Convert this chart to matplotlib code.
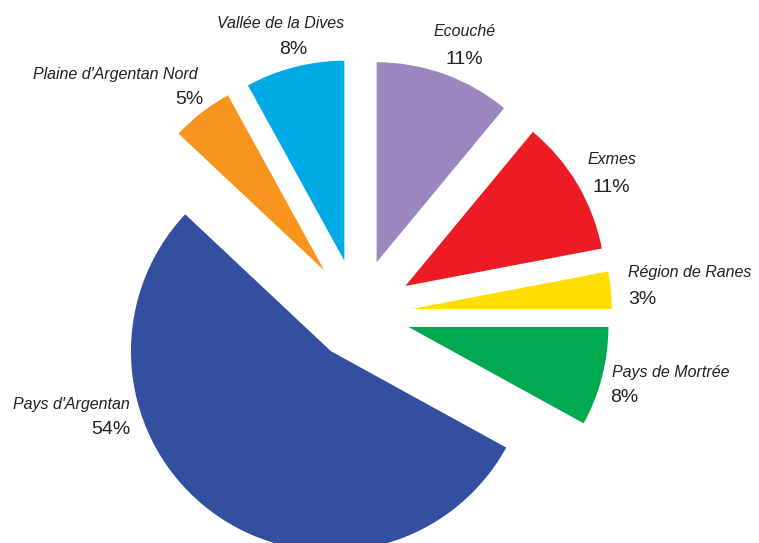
import matplotlib.pyplot as plt

# Share of each sector, clockwise from 12 o'clock
sectors = [
    "Ecouché",
    "Exmes",
    "Région de Ranes",
    "Pays de Mortrée",
    "Pays d'Argentan",
    "Plaine d'Argentan Nord",
    "Vallée de la Dives",
]
shares = [11, 11, 3, 8, 54, 5, 8]
colors = ["#9B87BE", "#ED1C24", "#FFDD00", "#00A94F", "#3350A0", "#F7941D", "#00AAE4"]
# how far each wedge is pulled out from the centre (pie units = px here)
explode = [55, 55, 54, 52, 46, 55, 55]

# label anchors in pixel space (x, y from top) and alignment
label_pos = [
    (465, 32, "center"),
    (612, 159, "center"),
    (628, 273, "left"),
    (612, 373, "left"),
    (130, 405, "right"),
    (198, 75, "right"),
    (281, 24, "center"),
]
pct_pos = [
    (464, 59, "center"),
    (611, 187, "center"),
    (628, 300, "left"),
    (610, 397, "left"),
    (130, 430, "right"),
    (203, 100, "right"),
    (293, 49, "center"),
]

W, H = 759, 543
fig = plt.figure(figsize=(W / 100, H / 100), dpi=100)
ax = fig.add_axes([0, 0, 1, 1])

ax.pie(
    shares,
    colors=colors,
    explode=explode,
    startangle=90,
    counterclock=False,
    center=(358, H - 314),
    radius=200,
    frame=True,
    wedgeprops=dict(linewidth=0),
)
ax.set_xlim(0, W)
ax.set_ylim(0, H)
ax.set_aspect("equal")
ax.axis("off")

txt_color = "#231F20"
for name, (x, y, ha) in zip(sectors, label_pos):
    ax.text(x, H - y, name, ha=ha, va="center", fontsize=11.5,
            style="italic", family="Liberation Sans", color=txt_color)
for val, (x, y, ha) in zip(shares, pct_pos):
    ax.text(x, H - y, f"{val}%", ha=ha, va="center", fontsize=14,
            family="Liberation Sans", color=txt_color)

fig.savefig("out.png", dpi=100)
